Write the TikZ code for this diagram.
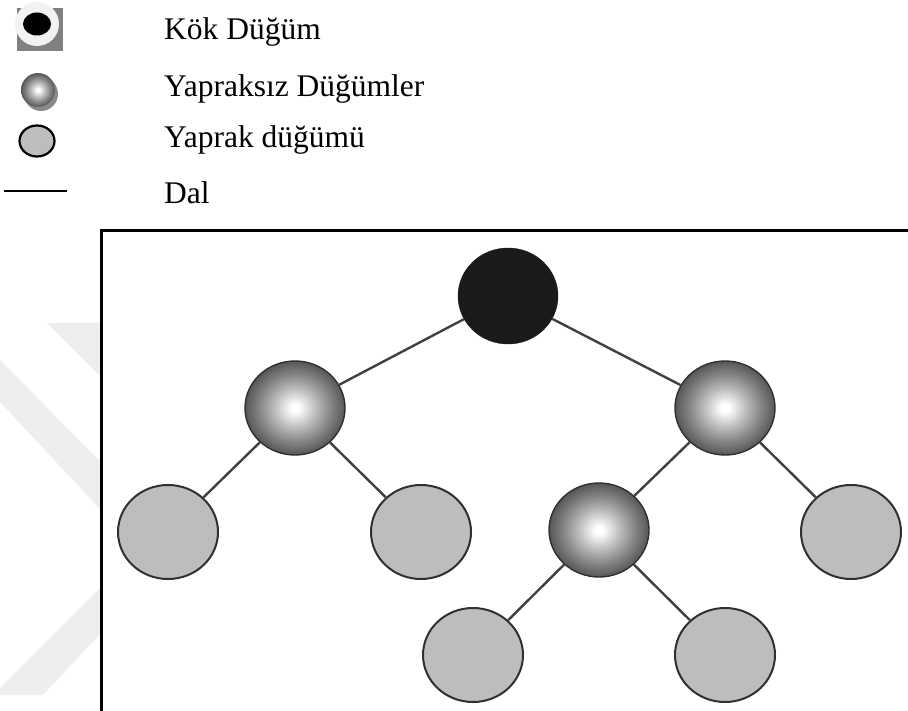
\documentclass[tikz,border=0pt]{standalone}
\usepackage{fontspec}
\setmainfont{Liberation Serif}
\usetikzlibrary{shapes.geometric}
\definecolor{rootc}{HTML}{1A1A1A}
\definecolor{leafc}{HTML}{BDBDBD}
\definecolor{edgec}{HTML}{404040}
\definecolor{rimc}{HTML}{303030}
\definecolor{sqc}{HTML}{808080}
\definecolor{ringc}{HTML}{F2F2F2}
\definecolor{shadowc}{HTML}{8A8A8A}
\definecolor{wmc}{HTML}{EEEEEE}
\pgfdeclareradialshading{sphshade}{\pgfpointorigin}{color(0bp)=(white); color(2bp)=(white); color(10bp)=(black!25); color(18bp)=(black!48); color(25bp)=(black!66); color(50bp)=(black!66)}
\tikzset{
  rootnode/.style={ellipse, minimum width=100pt, minimum height=96pt, inner sep=0pt, fill=rootc, draw=rootc},
  inner/.style={ellipse, minimum width=100pt, minimum height=94pt, inner sep=0pt, shading=sphshade, draw=rimc, line width=1.4pt},
  leaf/.style={ellipse, minimum width=100pt, minimum height=94pt, inner sep=0pt, fill=leafc, draw=rimc, line width=2pt},
  branch/.style={draw=edgec, line width=2.4pt},
  legtext/.style={anchor=base west, inner sep=0pt, font=\fontsize{31.5}{36}\selectfont},
}
\begin{document}
\begin{tikzpicture}[x=1pt, y=-1pt]
\useasboundingbox (0,0) rectangle (908,711);
% faint watermark
\fill[wmc] (0,360) -- (101,462) -- (101,510) -- (0,402) -- cycle;
\fill[wmc] (47,323) -- (101,323) -- (101,377) -- cycle;
\fill[wmc] (101,587) -- (101,633) -- (43,695) -- (0,695) -- (0,688) -- cycle;
% legend icons
\fill[sqc] (17,8) rectangle (63,51);
\node[circle, minimum size=44pt, inner sep=0pt, fill=ringc] (kring) at (37,24) {};
\node[ellipse, minimum width=28pt, minimum height=23pt, inner sep=0pt, fill=black] (kcore) at (37,24) {};
\node[circle, minimum size=34pt, inner sep=0pt, fill=shadowc] (ishadow) at (41,94) {};
\node[circle, minimum size=34pt, inner sep=0pt, shading=sphshade] (iball) at (38,90) {};
\node[ellipse, minimum width=35pt, minimum height=31pt, inner sep=0pt, fill=leafc, draw=black, line width=2.2pt] (lleaf) at (37,141) {};
\coordinate (d1) at (4,191);
\coordinate (d2) at (67,191);
\draw[black, line width=2.2pt] (d1) -- (d2);
% legend texts
\node[legtext] (t1) at (164,40) {Kök Düğüm};
\node[legtext] (t2) at (164,97) {Yapraksız Düğümler};
\node[legtext] (t3) at (164,148) {Yaprak düğümü};
\node[legtext] (t4) at (164,204) {Dal};
% frame
\coordinate (f1) at (101,711);
\coordinate (f2) at (101,231);
\coordinate (f3) at (908,231);
\draw[black, line width=3pt] (f1) -- (f2) -- (f3);
% tree
\node[rootnode] (root) at (508,296) {};
\node[inner] (a) at (295,408) {};
\node[inner] (b) at (725,408) {};
\node[inner] (c) at (599,530) {};
\node[leaf] (l1) at (168,532) {};
\node[leaf] (l2) at (421,532) {};
\node[leaf] (l3) at (851,532) {};
\node[leaf] (l4) at (473,655) {};
\node[leaf] (l5) at (725,655) {};
\draw[branch] (root) -- (a);
\draw[branch] (root) -- (b);
\draw[branch] (a) -- (l1);
\draw[branch] (a) -- (l2);
\draw[branch] (b) -- (c);
\draw[branch] (b) -- (l3);
\draw[branch] (c) -- (l4);
\draw[branch] (c) -- (l5);
\end{tikzpicture}
\end{document}
